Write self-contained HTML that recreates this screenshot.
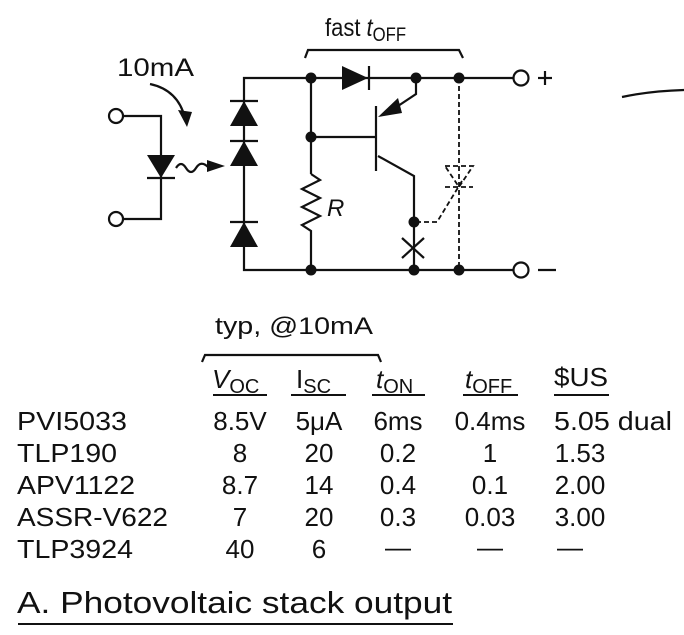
<!DOCTYPE html>
<html><head><meta charset="utf-8"><style>
html,body{margin:0;padding:0;background:#fff;}
svg{display:block;}
text{font-family:"Liberation Sans",sans-serif;fill:#111;}
</style></head><body>
<svg width="684" height="635" viewBox="0 0 684 635" xmlns="http://www.w3.org/2000/svg">
<g stroke="#111" stroke-width="2.2" fill="none">
<circle cx="116" cy="116" r="7" fill="#fff"/>
<circle cx="116" cy="219" r="7" fill="#fff"/>
<polyline points="123,116 161,116 161,219 123,219"/>
<line x1="147" y1="178" x2="175" y2="178"/>
<path d="M176,168 q5,-8 10,0 t10,0 t12,-1"/>
<path d="M150,84 Q178,90 185,118"/>
<polyline points="305,78 244,78 244,270 520,270"/>
<line x1="230" y1="101" x2="258" y2="101"/>
<line x1="230" y1="141" x2="258" y2="141"/>
<line x1="230" y1="222" x2="258" y2="222"/>
<line x1="305" y1="78" x2="513" y2="78"/>
<line x1="369" y1="66" x2="369" y2="90"/>
<polyline points="311,78 311,174"/>
<polyline points="311,137 376,137"/>
<path d="M311,174 L320,180 L302,189 L320,198 L302,207 L320,216 L302,225 L311,231 L311,270"/>
<line x1="376" y1="106" x2="376" y2="171"/>
<polyline points="416,78 416,94 392,110"/>
<polyline points="378,156 414,176 414,270"/>
<line x1="402" y1="238" x2="424" y2="258"/>
<line x1="424" y1="238" x2="402" y2="258"/>
<polyline points="305,58 308,50 459,50 463,58"/>
<polyline points="202,362 205,355 378,355 381,362"/>
<circle cx="521" cy="78" r="7.5" fill="#fff"/>
<circle cx="521" cy="270" r="7.5" fill="#fff"/>
<line x1="538" y1="270" x2="556" y2="270"/>
<line x1="538" y1="78" x2="552" y2="78"/><line x1="545" y1="71" x2="545" y2="85"/>
<path d="M622,97 Q650,91 684,90"/>
</g>
<g stroke="#111" stroke-width="1.8" fill="none" stroke-dasharray="5,3">
<line x1="459" y1="78" x2="459" y2="270"/>
<polygon points="445,166 473,166 459,187"/>
<line x1="445" y1="187" x2="473" y2="187"/>
<polyline points="416,222 437,222 462,181"/>
</g>
<g fill="#111" stroke="none">
<polygon points="147,155 175,155 161,178"/>
<polygon points="207,160 225,166 207,172"/>
<polygon points="178,110 192,112 187,127"/>
<polygon points="230,126 258,126 244,101"/>
<polygon points="230,166 258,166 244,141"/>
<polygon points="230,247 258,247 244,222"/>
<polygon points="342,66 342,90 368,78"/>
<polygon points="378,117 398,98 402,113"/>
<circle cx="311" cy="78" r="5.5"/><circle cx="311" cy="137" r="5.5"/><circle cx="311" cy="270" r="5.5"/>
<circle cx="416" cy="78" r="5.5"/><circle cx="459" cy="78" r="5.5"/>
<circle cx="414" cy="222" r="5.5"/><circle cx="414" cy="270" r="5.5"/><circle cx="459" cy="270" r="5.5"/>
</g>
<text x="117" y="76" font-size="25" textLength="77" lengthAdjust="spacingAndGlyphs">10mA</text>
<text x="327" y="216" font-size="24" font-style="italic">R</text>
<g transform="translate(325,36) scale(0.88,1)"><text x="0" y="0" font-size="25">fast <tspan font-style="italic">t</tspan><tspan font-size="19" dy="5">OFF</tspan></text></g>
<text x="215" y="334" font-size="24" textLength="158" lengthAdjust="spacingAndGlyphs">typ, @10mA</text>
<g font-size="26">
<text x="212" y="388"><tspan font-style="italic">V</tspan><tspan font-size="20" dy="5">OC</tspan></text>
<text x="296" y="388">I<tspan font-size="20" dy="5">SC</tspan></text>
<text x="376" y="388"><tspan font-style="italic">t</tspan><tspan font-size="20" dy="5">ON</tspan></text>
<text x="465" y="388"><tspan font-style="italic">t</tspan><tspan font-size="20" dy="5">OFF</tspan></text>
<text x="554" y="386" textLength="54" lengthAdjust="spacingAndGlyphs">$US</text>
</g>
<g stroke="#111" stroke-width="2">
<line x1="213" y1="395" x2="267" y2="395"/><line x1="291" y1="395" x2="346" y2="395"/>
<line x1="372" y1="395" x2="425" y2="395"/><line x1="463" y1="395" x2="518" y2="395"/>
<line x1="554" y1="395" x2="609" y2="395"/>
<line x1="18" y1="624" x2="453" y2="624"/>
</g>
<g font-size="26">
<text x="17" y="430" textLength="110" lengthAdjust="spacingAndGlyphs">PVI5033</text>
<text x="17" y="462" textLength="100" lengthAdjust="spacingAndGlyphs">TLP190</text>
<text x="17" y="494" textLength="118" lengthAdjust="spacingAndGlyphs">APV1122</text>
<text x="17" y="526" textLength="151" lengthAdjust="spacingAndGlyphs">ASSR-V622</text>
<text x="17" y="558" textLength="116" lengthAdjust="spacingAndGlyphs">TLP3924</text>
<text x="554" y="430" textLength="118" lengthAdjust="spacingAndGlyphs">5.05 dual</text>
</g>
<g font-size="26" text-anchor="middle">
<text x="240" y="430">8.5V</text><text x="240" y="462">8</text><text x="240" y="494">8.7</text><text x="240" y="526">7</text><text x="240" y="558">40</text>
<text x="319" y="430">5μA</text><text x="319" y="462">20</text><text x="319" y="494">14</text><text x="319" y="526">20</text><text x="319" y="558">6</text>
<text x="398" y="430">6ms</text><text x="398" y="462">0.2</text><text x="398" y="494">0.4</text><text x="398" y="526">0.3</text><text x="398" y="556">—</text>
<text x="490" y="430">0.4ms</text><text x="490" y="462">1</text><text x="490" y="494">0.1</text><text x="490" y="526">0.03</text><text x="490" y="556">—</text>
<text x="580" y="462">1.53</text><text x="580" y="494">2.00</text><text x="580" y="526">3.00</text>
<text x="570" y="556">—</text>
</g>
<text x="17" y="613" font-size="31" textLength="435" lengthAdjust="spacingAndGlyphs">A.  Photovoltaic stack output</text>
</svg>
</body></html>
